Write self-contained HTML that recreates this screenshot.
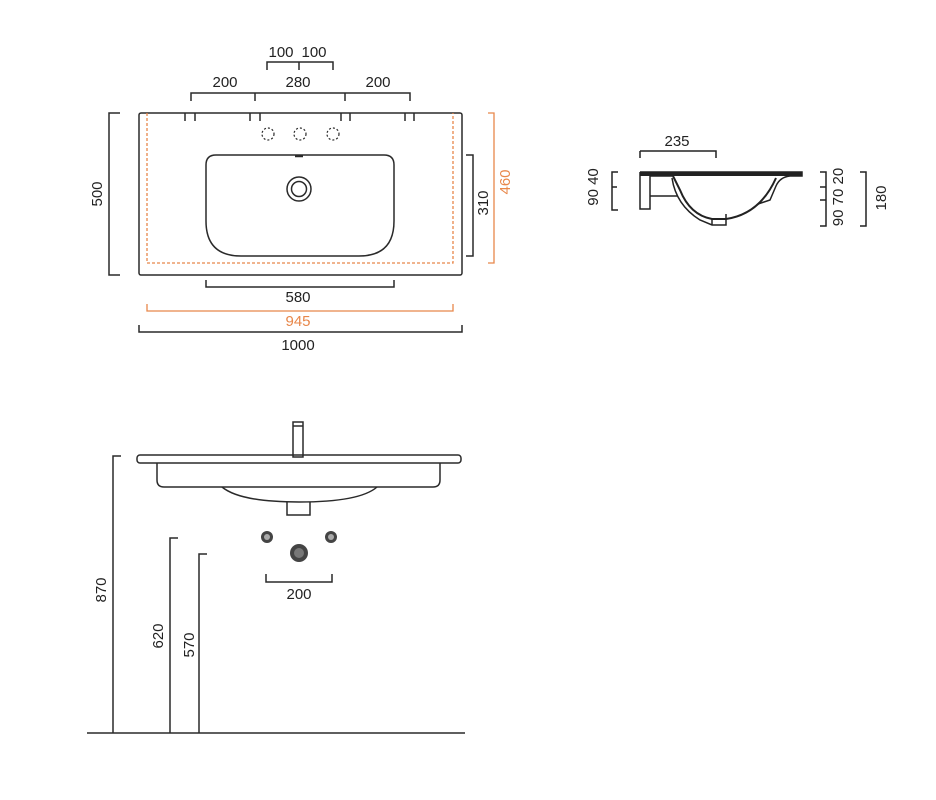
<!DOCTYPE html>
<html><head><style>
html,body{margin:0;padding:0;background:#fff;}
svg{display:block;}
text{font-family:"Liberation Sans",sans-serif;font-size:15px;fill:#222;}
.o{fill:#e8874a;}
</style></head><body>
<svg width="936" height="800" viewBox="0 0 936 800" xmlns="http://www.w3.org/2000/svg">
<g fill="none" stroke="#2a2a2a" stroke-width="1.5">
<rect x="139" y="113" width="323" height="162" rx="2"/>
<path d="M206 165 Q206 155 216 155 L384 155 Q394 155 394 165 L394 221 Q394 256 359 256 L241 256 Q206 256 206 221 Z"/>
<circle cx="299" cy="189" r="12"/>
<circle cx="299" cy="189" r="7.5"/>
<g stroke-dasharray="2 2" stroke-width="1.2">
<circle cx="268" cy="134" r="6"/><circle cx="300" cy="134" r="6"/><circle cx="333" cy="134" r="6"/>
</g>
<path d="M185 113V121M195 113V121M250 113V121M260 113V121M341 113V121M350 113V121M405 113V121M414 113V121"/>
<path d="M295 156H303" stroke-width="2.5"/>
<path d="M191 101V93H410V101M255 93V101M345 93V101"/>
<path d="M267 70V62H333V70M299 62V70"/>
<path d="M120 113H109V275H120"/>
<path d="M466 155H473V256H466"/>
<path d="M206 280V287H394V280"/>
<path d="M139 325V332H462V325"/>
</g>
<g fill="none" stroke="#e8874a" stroke-width="1.3">
<path d="M147 113V263H453V113" stroke-dasharray="3 2"/>
<path d="M488 113H494V263H488"/>
<path d="M147 304V311H453V304"/>
</g>
<text x="281" y="57" text-anchor="middle">100</text><text x="314" y="57" text-anchor="middle">100</text>
<text x="225" y="87" text-anchor="middle">200</text>
<text x="298" y="87" text-anchor="middle">280</text>
<text x="378" y="87" text-anchor="middle">200</text>
<text x="298" y="302" text-anchor="middle">580</text>
<text x="298" y="326" text-anchor="middle" class="o">945</text>
<text x="298" y="350" text-anchor="middle">1000</text>
<text transform="translate(102,194) rotate(-90)" text-anchor="middle">500</text>
<text transform="translate(488,203) rotate(-90)" text-anchor="middle">310</text>
<text transform="translate(510,182) rotate(-90)" text-anchor="middle" class="o">460</text>

<g fill="none" stroke="#222" stroke-width="1.5">
<path d="M640 151V158M640 151H716V158"/>
<path d="M618 172H612V210H618M612 187H617"/>
<path d="M820 172H826V226H820M820 187H826M820 200H826"/>
<path d="M860 172H866V226H860"/>
<path d="M640 172V209H650V176H672"/>
<path d="M640 172H802V176H790 Q780 177 776 186 L770 200 L758 204"/>
<path d="M672 174 L680 190 Q690 215 712 219 L726 219 Q760 214 776 178" stroke-width="2"/>
<path d="M672 178 Q676 205 700 220 L712 225 L726 225 V214"/>
<path d="M712 219V225"/>
<path d="M650 196H678"/>
</g>
<rect x="640" y="172" width="162" height="4" fill="#222"/>
<text x="677" y="146" text-anchor="middle">235</text>
<text transform="translate(598,187) rotate(-90)" text-anchor="middle">90 40</text>
<text transform="translate(843,197) rotate(-90)" text-anchor="middle">90 70 20</text>
<text transform="translate(886,198) rotate(-90)" text-anchor="middle">180</text>

<g fill="none" stroke="#2a2a2a" stroke-width="1.5">
<rect x="293" y="422" width="10" height="35"/>
<path d="M293 426H303"/>
<rect x="137" y="455" width="324" height="8" rx="3"/>
<path d="M157 463V480Q157 487 164 487H433Q440 487 440 480V463"/>
<path d="M222 487Q240 502 299 502Q360 502 377 487"/>
<path d="M287 502V515H310V502"/>
<path d="M266 574V582H332V574"/>
<path d="M121 456H113V733M178 538H170V733M207 554H199V733M87 733H465"/>
</g>
<circle cx="267" cy="537" r="6" fill="#444"/><circle cx="267" cy="537" r="3" fill="#aaa"/>
<circle cx="331" cy="537" r="6" fill="#444"/><circle cx="331" cy="537" r="3" fill="#aaa"/>
<circle cx="299" cy="553" r="9" fill="#444"/><circle cx="299" cy="553" r="5" fill="#777"/>
<text x="299" y="599" text-anchor="middle">200</text>
<text transform="translate(106,590) rotate(-90)" text-anchor="middle">870</text>
<text transform="translate(163,636) rotate(-90)" text-anchor="middle">620</text>
<text transform="translate(194,645) rotate(-90)" text-anchor="middle">570</text>
</svg>
</body></html>
